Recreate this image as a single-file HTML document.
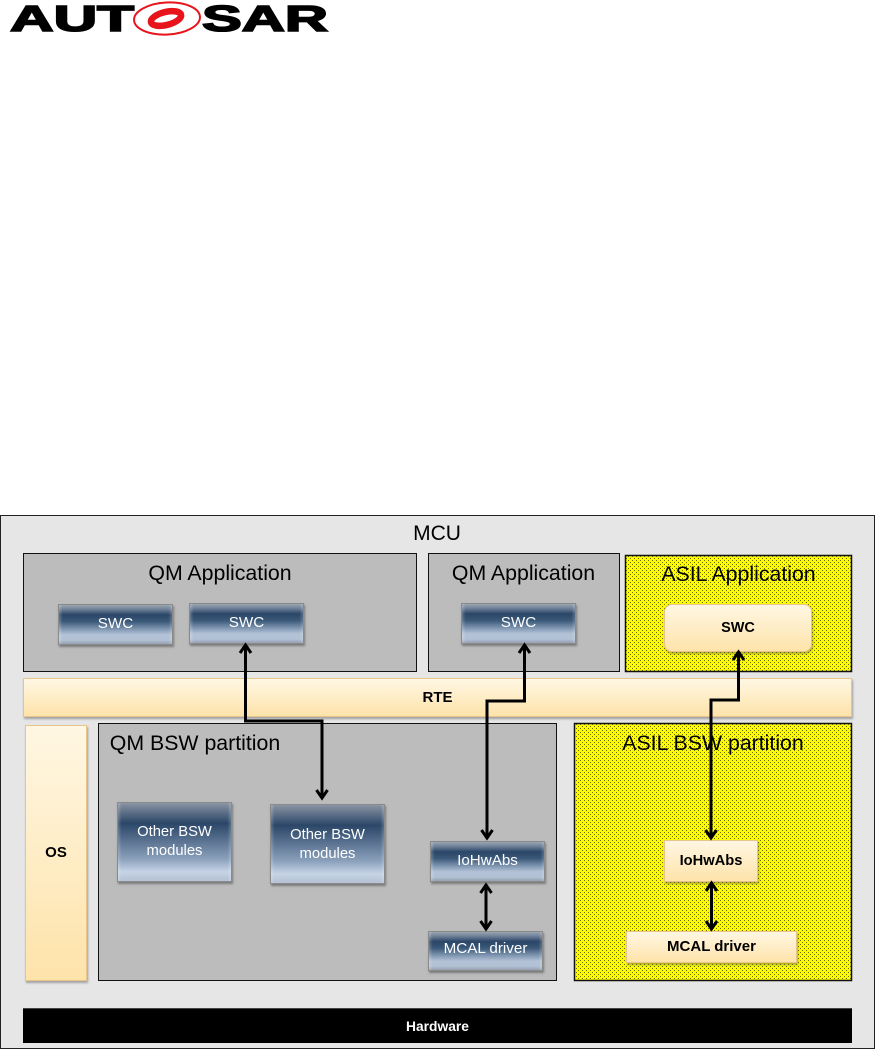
<!DOCTYPE html>
<html>
<head>
<meta charset="utf-8">
<style>
html,body{margin:0;padding:0;background:#fff}
body{width:875px;height:1050px;position:relative;overflow:hidden;font-family:"Liberation Sans",sans-serif}
.a{position:absolute;box-sizing:border-box}
.t{position:absolute;white-space:nowrap;text-align:center;transform:translateX(-50%);line-height:1;color:#000}
.box{background:#bcbcbc;border:1.5px solid #111}
.b{background:linear-gradient(#98a3b1 0,#74859b 10%,#2b4668 25%,#3a5878 42%,#8ea3bd 66%,#b2c1d5 76%,#b2c1d5 90%,#93a0b0 100%);border:1px solid #8a8a8a;box-shadow:1px 2px 2px rgba(70,70,70,.55),inset 3px 0 2px -1px rgba(255,255,255,.22),inset -3px 0 2px -1px rgba(255,255,255,.18);color:#fff;text-align:center;font-size:15.2px}
.b2{background:linear-gradient(#8a95a4 0,#6f7e92 7%,#2b4668 26%,#8ba1bc 72%,#c5d3e6 88%,#b5c2d3 100%);border:1px solid #8a8a8a;box-shadow:1px 2px 2px rgba(70,70,70,.55),inset 3px 0 2px -1px rgba(255,255,255,.2),inset -3px 0 2px -1px rgba(255,255,255,.2);color:#fff;text-align:center;font-size:14.8px;line-height:18.500px}
.c{background:linear-gradient(#fff7e3,#fee3aa);border:1px solid #e8c48a;box-shadow:1px 2px 2px rgba(80,80,80,.45);color:#000;text-align:center;font-weight:bold;font-size:14.5px}
</style>
</head>
<body>

<!-- Logo -->
<svg class="a" style="left:0;top:0" width="340" height="40" viewBox="0 0 340 40">
<g font-family="Liberation Sans" font-weight="bold" font-size="36" fill="#000" stroke="#000" stroke-width="1.6">
<text x="10" y="31" textLength="124" lengthAdjust="spacingAndGlyphs">AUT</text>
<text x="202" y="31" textLength="126" lengthAdjust="spacingAndGlyphs">SAR</text>
</g>
<ellipse cx="167" cy="18.500" rx="33" ry="16" fill="#fff" stroke="#e8141c" stroke-width="2" transform="rotate(-3 167 18.500)"/>
<ellipse cx="166" cy="18.500" rx="15.500" ry="6.500" fill="#fff" stroke="#e8141c" stroke-width="6.500" transform="rotate(-14 166 18.500)"/>
</svg>

<!-- MCU -->
<div class="a" style="left:0;top:515px;width:875px;height:534px;background:#e6e6e6;border:1.5px solid #222"></div>
<div class="t" style="left:437px;top:523px;font-size:21px">MCU</div>

<!-- Applications -->
<div class="a box" style="left:23px;top:553px;width:394px;height:119px"></div>
<div class="t" style="left:220px;top:562.500px;font-size:21.300px">QM Application</div>
<div class="a box" style="left:428px;top:553px;width:192px;height:119px"></div>
<div class="t" style="left:523.500px;top:562.500px;font-size:21.300px">QM Application</div>

<!-- Yellow dotted panels -->
<svg class="a" style="left:0;top:0" width="875" height="1050" viewBox="0 0 875 1050">
<defs>
<pattern id="d" x="0" y="0" width="4" height="4" patternUnits="userSpaceOnUse">
<rect width="4" height="4" fill="#fdfd00"/>
<rect x="0" y="0" width="1" height="1" fill="#6a6a10"/>
<rect x="2" y="2" width="1" height="1" fill="#6a6a10"/>
</pattern>
</defs>
<rect x="625.500" y="555.500" width="226" height="116" fill="url(#d)" stroke="#111" stroke-width="1.500"/>
<rect x="574.500" y="723.500" width="277" height="257" fill="url(#d)" stroke="#111" stroke-width="1.500"/>
</svg>
<div class="t" style="left:738.500px;top:563.500px;font-size:21.300px">ASIL Application</div>

<div class="a b" style="left:58px;top:604px;width:115px;height:41px;line-height:37px">SWC</div>
<div class="a b" style="left:189px;top:603px;width:115px;height:41px;line-height:37px">SWC</div>
<div class="a b" style="left:461px;top:603px;width:115px;height:41px;line-height:37px">SWC</div>
<div class="a c" style="left:664px;top:604px;width:148px;height:48px;line-height:46px;border-radius:8px">SWC</div>

<!-- RTE -->
<div class="a c" style="left:23px;top:678px;width:829px;height:39px;line-height:37px;font-size:15px">RTE</div>

<!-- OS -->
<div class="a c" style="left:25px;top:725px;width:62px;height:256px;line-height:254px;font-size:15px">OS</div>

<!-- QM BSW -->
<div class="a box" style="left:98px;top:723px;width:459px;height:258px"></div>
<div class="t" style="left:195px;top:732.500px;font-size:21.300px">QM BSW partition</div>
<div class="a b2" style="left:117px;top:802px;width:115px;height:80px;padding-top:20px">Other BSW<br>modules</div>
<div class="a b2" style="left:270px;top:804px;width:115px;height:80px;padding-top:21px">Other BSW<br>modules</div>
<div class="a b" style="left:430px;top:841px;width:115px;height:41px;line-height:38px">IoHwAbs</div>
<div class="a b" style="left:428px;top:931px;width:115px;height:40px;line-height:33px">MCAL driver</div>

<!-- ASIL BSW -->
<div class="t" style="left:713px;top:732.500px;font-size:21.300px">ASIL BSW partition</div>
<div class="a c" style="left:664px;top:840px;width:94px;height:42px;line-height:40px;font-size:14.700px">IoHwAbs</div>
<div class="a c" style="left:626px;top:931px;width:171px;height:32px;line-height:29px;font-size:15px">MCAL driver</div>

<!-- Hardware -->
<div class="a" style="left:23px;top:1008px;width:829px;height:35px;background:#000;border-top:1px solid #444;color:#fff;font-weight:bold;font-size:13.800px;text-align:center;line-height:35px">Hardware</div>

<!-- Connectors -->
<svg class="a" style="left:0;top:0" width="875" height="1050" viewBox="0 0 875 1050">
<g fill="none" stroke="#000" stroke-width="3">
<path d="M245.500 646V721H322V797"/>
<path d="M524.500 646V701H487V838"/>
<path d="M738.500 653V700H711V838"/>
<path d="M486 887V927"/>
<path d="M711.500 885V927"/>
<path d="M240 653L245.500 645L251 653"/>
<path d="M519 653L524.500 645L530 653"/>
<path d="M733 660L738.500 652L744 660"/>
<path d="M316.500 790L322 798L327.500 790"/>
<path d="M481.500 830L487 838L492.500 830"/>
<path d="M705.500 830L711 838L716.500 830"/>
<path d="M480.500 893L486 885L491.500 893"/>
<path d="M480.500 921L486 929L491.500 921"/>
<path d="M706 891L711.500 883L717 891"/>
<path d="M706 921L711.500 929L717 921"/>
</g>
</svg>

</body>
</html>
